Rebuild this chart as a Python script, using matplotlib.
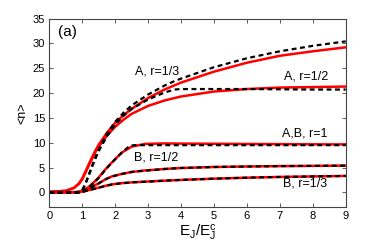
import numpy as np
import matplotlib
matplotlib.use('Agg')
import matplotlib.pyplot as plt

plt.rcParams['font.family'] = ['Liberation Sans', 'DejaVu Sans']
plt.rcParams['mathtext.fontset'] = 'custom'
plt.rcParams['mathtext.rm'] = 'Liberation Sans'
plt.rcParams['mathtext.it'] = 'Liberation Sans'

# ---- data ----
# solid red curves
x_red_A  = [0, 0.5, 0.75, 0.9, 1.0, 1.1, 1.25, 1.4, 1.5, 1.75, 2.0, 2.25, 2.5, 3.0, 3.5, 4.0, 5.0, 6.0, 7.0, 8.0, 9.0]
y_red_A3 = [0.1, 0.3, 0.9, 1.8, 2.8, 4.2, 6.4, 8.4, 9.6, 12.0, 14.0, 15.5, 16.8, 19.0, 20.7, 22.1, 24.3, 26.1, 27.5, 28.4, 29.2]
y_red_A2 = [0.1, 0.3, 0.9, 1.7, 2.6, 4.0, 6.1, 8.1, 9.2, 11.4, 13.2, 14.6, 15.8, 17.4, 18.5, 19.3, 20.3, 20.8, 21.1, 21.2, 21.3]

x_red_B  = [0, 0.8, 0.95, 1.0, 1.1, 1.2, 1.35, 1.5, 1.7, 1.9, 2.2, 2.5, 2.9, 3.5, 4.0, 5.0, 6.0, 7.0, 8.0, 9.0]
y_red_1  = [0, 0.05, 0.2, 0.35, 0.7, 1.1, 2.0, 3.0, 4.6, 6.0, 8.0, 9.2, 9.75, 9.85, 9.82, 9.78, 9.74, 9.7, 9.67, 9.65]
y_red_B2 = [0, 0.02, 0.1, 0.2, 0.45, 0.75, 1.3, 1.8, 2.6, 3.2, 3.7, 4.1, 4.4, 4.7, 4.9, 5.1, 5.2, 5.28, 5.33, 5.38]
y_red_B3 = [0, 0.02, 0.08, 0.15, 0.3, 0.45, 0.7, 0.95, 1.3, 1.6, 1.85, 2.0, 2.15, 2.35, 2.5, 2.75, 2.95, 3.1, 3.2, 3.3]

# dashed black curves
x_dash_A  = [0, 0.9, 1.0, 1.1, 1.2, 1.35, 1.5, 1.75, 2.0, 2.25, 2.5, 3.0, 3.5, 3.8, 4.0, 5.0, 6.0, 7.0, 8.0, 9.0]
y_dash_A3 = [0, 0.05, 0.4, 1.8, 3.6, 6.2, 8.6, 11.8, 14.2, 16.0, 17.5, 19.7, 21.5, 22.4, 22.9, 25.2, 27.0, 28.4, 29.5, 30.4]
y_dash_A2 = [0, 0.05, 0.4, 1.7, 3.4, 6.0, 8.3, 11.3, 13.6, 15.4, 16.8, 18.7, 20.1, 20.7, 20.8, 20.8, 20.8, 20.75, 20.7, 20.7]

x_dash_B  = [0, 0.95, 1.0, 1.1, 1.2, 1.35, 1.5, 1.7, 1.9, 2.2, 2.45, 2.6, 3.0, 3.5, 4.0, 5.0, 6.0, 7.0, 8.0, 9.0]
y_dash_1  = [0, 0.0, 0.1, 0.5, 1.0, 1.9, 2.9, 4.5, 6.0, 8.0, 9.4, 9.5, 9.5, 9.5, 9.5, 9.5, 9.5, 9.5, 9.5, 9.5]
y_dash_B2 = [0, 0.0, 0.05, 0.35, 0.7, 1.25, 1.8, 2.6, 3.2, 3.7, 4.05, 4.2, 4.4, 4.7, 4.9, 5.1, 5.2, 5.28, 5.33, 5.38]
y_dash_B3 = [0, 0.0, 0.05, 0.25, 0.42, 0.68, 0.93, 1.28, 1.58, 1.83, 1.97, 2.05, 2.15, 2.35, 2.5, 2.75, 2.95, 3.1, 3.2, 3.3]

labels = ['A, r=1/3', 'A, r=1/2', 'A,B, r=1', 'B, r=1/2', 'B, r=1/3']
label_x = [3.26, 7.8, 7.76, 3.24, 7.78]
label_y = [24.3, 23.3, 11.8, 7.0, 1.8]

# ---- plot ----
fig = plt.figure(figsize=(3.82, 2.47), dpi=100)
ax = fig.add_axes([0.129, 0.161, 0.776, 0.764])

for y in [y_red_A3, y_red_A2]:
    ax.plot(x_red_A, y, color='red', lw=1.8, solid_capstyle='round')
for y in [y_red_1, y_red_B2, y_red_B3]:
    ax.plot(x_red_B, y, color='red', lw=1.8, solid_capstyle='round')
for y in [y_dash_A3, y_dash_A2]:
    ax.plot(x_dash_A, y, color='black', lw=1.6, ls=(0, (2.2, 1.6)))
for y in [y_dash_1, y_dash_B2, y_dash_B3]:
    ax.plot(x_dash_B, y, color='black', lw=1.6, ls=(0, (2.2, 1.6)))

for t, tx, ty in zip(labels, label_x, label_y):
    ax.text(tx, ty, t, fontsize=9, ha='center', va='center')
ax.text(0.25, 32.3, '(a)', fontsize=11, ha='left', va='center')

ax.set_xlim(0, 9)
ax.set_ylim(-3, 35)
ax.set_xticks(range(0, 10))
ax.set_yticks(range(0, 36, 5))
ax.tick_params(direction='in', top=True, right=True, labelsize=8, length=3,
               width=0.6, color='#444444', pad=3)
for s in ax.spines.values():
    s.set_color('#444444')
    s.set_linewidth(0.8)

ax.set_xlabel(r'E$_J$/E$_J^c$', fontsize=11, labelpad=1)
ax.set_ylabel('<n>', fontsize=9, labelpad=3)

fig.savefig('out.png', dpi=100)
